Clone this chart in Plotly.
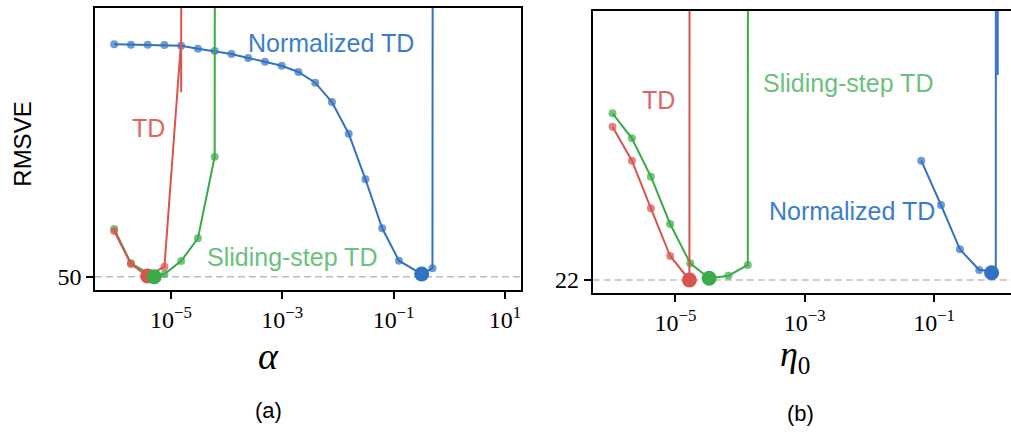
import plotly.graph_objects as go

W, H = 1011, 435

# ---------------- panel (a): step size alpha ----------------
alpha_ntd = [2**-20, 2**-19, 2**-18, 2**-17, 2**-16, 2**-15, 2**-14, 2**-13, 2**-12,
             2**-11, 2**-10, 2**-9, 2**-8, 2**-7, 2**-6, 2**-5, 2**-4, 2**-3,
             0.32, 2**-1, 2**0]
rmsve_ntd = [96.48, 96.40, 96.40, 96.34, 96.20, 95.60, 95.14, 94.54, 93.74,
             93.00, 92.20, 90.94, 88.80, 84.94, 78.60, 69.48, 59.68, 53.20,
             50.54, 51.68, 5000]

alpha_td = [2**-20, 2**-19, 2**-18, 2**-17, 2**-16, 2**-16, 2**-15]
rmsve_td = [59.14, 52.54, 50.14, 52.00, 97.30, 86.90, 5000]

alpha_ss = [2**-20, 2**-19, 5.0e-6, 2**-17, 2**-16, 2**-15, 2**-14, 2**-13]
rmsve_ss = [59.54, 52.68, 50.00, 50.54, 53.14, 57.68, 74.00, 5000]

best_a = {"td": (2**-18, 50.14), "ss": (5.0e-6, 50.00), "ntd": (0.32, 50.54)}

# ---------------- panel (b): initial step size eta0 ----------------
eta_td = [1.062e-6, 2.12e-6, 4.17e-6, 8.28e-6, 1.644e-5, 3.3e-5]
rmsve_td_b = [37.33, 33.93, 29.17, 24.40, 22.00, 5000]

eta_ss = [1.062e-6, 2.12e-6, 4.17e-6, 8.28e-6, 1.69e-5, 3.32e-5, 6.59e-5, 1.315e-4, 2.63e-4]
rmsve_ss_b = [38.67, 36.17, 32.33, 27.60, 23.67, 22.17, 22.43, 23.50, 5000]

eta_ntd = [0.0634, 0.128, 0.251, 0.499, 0.90, 1.80, None, 0.965, 1.93]
rmsve_ntd_b = [33.93, 29.50, 25.07, 23.00, 22.90, 5000, None, 42.50, 5000]

best_b = {"td": (1.644e-5, 22.00), "ss": (3.32e-5, 22.17), "ntd": (0.776, 22.73)}

x_ticks_a = [1e-5, 1e-3, 1e-1, 1e1]
x_text_a = ["10<sup>\u22125</sup>", "10<sup>\u22123</sup>", "10<sup>\u22121</sup>", "10<sup>1</sup>"]
x_ticks_b = [1e-5, 1e-3, 1e-1]
x_text_b = ["10<sup>\u22125</sup>", "10<sup>\u22123</sup>", "10<sup>\u22121</sup>"]

BLUE = "#3272c2"
RED = "#d9544c"
GREEN = "#3aab48"
BLUE_T = "#3c7dcb"
RED_T = "#e06666"
GREEN_T = "#6cc07e"

SMALL, BIG = 8, 15


def sizes(n, hidden=()):
    return [0 if i in hidden else SMALL for i in range(n)]


fig = go.Figure()


def series(x, y, color, xa, ya, hidden=()):
    fig.add_trace(go.Scatter(
        x=x, y=y, mode="lines+markers", xaxis=xa, yaxis=ya,
        line=dict(color=color, width=2),
        marker=dict(color=color, size=sizes(len(x), hidden), line=dict(width=0)),
        showlegend=False, hoverinfo="skip"))


def best(pt, color, xa, ya):
    fig.add_trace(go.Scatter(
        x=[pt[0]], y=[pt[1]], mode="markers", xaxis=xa, yaxis=ya,
        marker=dict(color=color, size=BIG, line=dict(width=0)),
        showlegend=False, hoverinfo="skip"))


# panel (a)
series(alpha_ntd, rmsve_ntd, BLUE, "x", "y")
series(alpha_ss, rmsve_ss, GREEN, "x", "y")
series(alpha_td, rmsve_td, RED, "x", "y", hidden=(4, 5))
best(best_a["td"], RED, "x", "y")
best(best_a["ss"], GREEN, "x", "y")
best(best_a["ntd"], BLUE, "x", "y")

# panel (b)
series(eta_ntd, rmsve_ntd_b, BLUE, "x2", "y2", hidden=(4, 7))
series(eta_ss, rmsve_ss_b, GREEN, "x2", "y2")
series(eta_td, rmsve_td_b, RED, "x2", "y2")
best(best_b["td"], RED, "x2", "y2")
best(best_b["ss"], GREEN, "x2", "y2")
best(best_b["ntd"], BLUE, "x2", "y2")


def px(x):
    return x / W


def py(y):
    return 1 - y / H


tick_font = dict(family="Liberation Serif", size=24, color="black")
axis_common = dict(showline=True, linecolor="black", linewidth=1.6, ticks="outside",
                   ticklen=7, tickwidth=1.6, tickcolor="black", showgrid=False,
                   zeroline=False, automargin=False, tickfont=tick_font)

fig.update_layout(
    width=W, height=H, margin=dict(l=0, r=0, t=0, b=0),
    paper_bgcolor="white", plot_bgcolor="white",
    xaxis=dict(type="log", range=[-6.365, 1.29], domain=[px(95), px(521)],
               tickvals=x_ticks_a, ticktext=x_text_a, mirror=True, anchor="y",
               **axis_common),
    yaxis=dict(range=[47.34, 103.74], domain=[py(290), py(8)], tickvals=[50],
               ticktext=["50"], mirror=True, anchor="x", **axis_common),
    xaxis2=dict(type="log", range=[-6.28, 0.19], domain=[px(592.7), 1.0],
                tickvals=x_ticks_b, ticktext=x_text_b, mirror=True, anchor="y2",
                **axis_common),
    yaxis2=dict(range=[20.67, 48.9], domain=[py(293.3), py(11)], tickvals=[22],
                ticktext=["22"], mirror=False, anchor="x2", **axis_common),
)

# reference level of the best run in each panel
for xr, yv in (("x", 50), ("x2", 22)):
    fig.add_shape(type="line", xref=f"{xr} domain", yref="y" if xr == "x" else "y2",
                  x0=0, x1=1, y0=yv, y1=yv, layer="below",
                  line=dict(color="#bdbdbd", width=1.6, dash="7px,4px"))

sans = "Liberation Sans"
labels = [
    ("Normalized TD", 330.8, 43.5, BLUE_T),
    ("TD", 148.3, 128, RED_T),
    ("Sliding-step TD", 291.8, 257, GREEN_T),
    ("TD", 658.5, 100, RED_T),
    ("Sliding-step TD", 847.8, 83, GREEN_T),
    ("Normalized TD", 851.7, 211, BLUE_T),
]
for text, x, y, c in labels:
    fig.add_annotation(text=text, x=px(x), y=py(y), xref="paper", yref="paper",
                       showarrow=False, xanchor="center", yanchor="middle",
                       font=dict(family=sans, size=25, color=c))

fig.add_annotation(text="RMSVE", x=px(21.7), y=py(144), xref="paper", yref="paper",
                   showarrow=False, textangle=-90, xanchor="center", yanchor="middle",
                   font=dict(family=sans, size=24, color="black"))
fig.add_annotation(text="<i>\u03b1</i>", x=px(268), y=py(356), xref="paper", yref="paper",
                   showarrow=False, xanchor="center", yanchor="middle",
                   font=dict(family="Liberation Serif", size=38, color="black"))
fig.add_annotation(text="<i>\u03b7</i><sub>0</sub>", x=px(795), y=py(356), xref="paper",
                   yref="paper", showarrow=False, xanchor="center", yanchor="middle",
                   font=dict(family="Liberation Serif", size=36, color="black"))
fig.add_annotation(text="(a)", x=px(268), y=py(410), xref="paper", yref="paper",
                   showarrow=False, xanchor="center", yanchor="middle",
                   font=dict(family=sans, size=22, color="black"))
fig.add_annotation(text="(b)", x=px(800), y=py(413), xref="paper", yref="paper",
                   showarrow=False, xanchor="center", yanchor="middle",
                   font=dict(family=sans, size=22, color="black"))

fig.write_html("out.html")
